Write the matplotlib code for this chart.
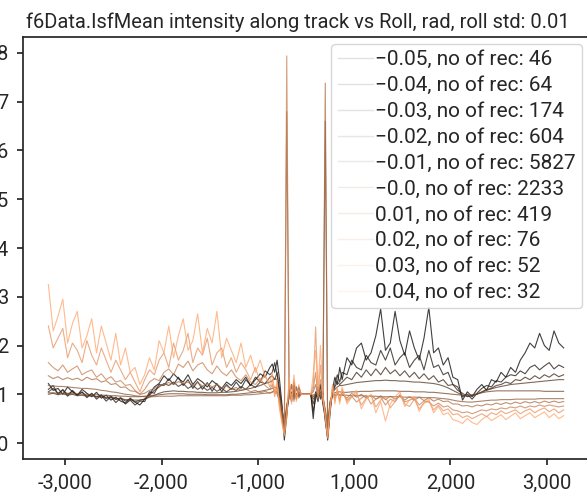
import numpy as np
import matplotlib
matplotlib.use("Agg")
import matplotlib.pyplot as plt
from matplotlib import cm

plt.rcParams['font.family'] = ['Roboto', 'DejaVu Sans']

# ---------------- data ----------------
rolls = ["\u22120.05", "\u22120.04", "\u22120.03", "\u22120.02", "\u22120.01",
         "\u22120.0", "0.01", "0.02", "0.03", "0.04"]
n_rec = [46, 64, 174, 604, 5827, 2233, 419, 76, 52, 32]

# along-track positions (tick-spaced axis units)
pos_left = np.arange(-2675, -349, 50)
pos_center = np.arange(-350, 351, 25)
pos_right = np.arange(375, 2676, 50)

tick_pos = [-2500, -1500, -500, 500, 1500, 2500]
tick_labels = ["-3,000", "-2,000", "-1,000", "1,000", "2,000", "3,000"]
ytick_vals = [0, 1, 2, 3, 4, 5, 6, 7, 8]

m05_left = [1.22, 1.08, 1.12, 1.00, 1.15, 1.05, 0.98, 1.10, 1.02, 0.95, 1.04, 0.92, 0.98, 0.88, 0.94, 0.86,
            0.82, 0.92, 0.84, 0.78, 0.90, 1.00, 1.15, 1.22, 1.38, 1.28, 1.42, 1.32, 1.25, 1.40, 1.20, 1.32,
            1.25, 1.15, 1.28, 1.20, 1.12, 1.25, 1.18, 1.30, 1.22, 1.35, 1.18, 1.30, 1.42, 1.35, 1.55]
m05_center = [1.62, 1.45, 1.70, 1.30, 0.80, 0.06, 0.55, 1.10, 0.85, 1.25, 0.90, 1.15, 1.00, 1.00, 1.00,
              1.00, 1.00, 0.50, 1.05, 0.85, 1.20, 0.80, 0.50, 0.06, 0.60, 1.10, 1.35, 1.20, 1.55]
m05_right = [1.30, 1.75, 1.60, 1.95, 2.05, 1.70, 1.85, 2.20, 2.75, 1.90, 2.05, 2.70, 2.10, 1.80, 2.30, 1.95,
             1.70, 2.15, 2.78, 1.85, 1.95, 1.60, 1.75, 1.35, 1.30, 0.88, 1.05, 0.95, 1.10, 1.20, 1.08, 1.30,
             1.25, 1.45, 1.35, 1.55, 1.45, 1.70, 1.85, 2.05, 1.95, 2.25, 2.00, 1.90, 2.30, 2.05, 1.95]

m04_left = [1.10, 1.18, 1.00, 1.10, 0.96, 1.08, 0.98, 1.05, 0.93, 1.02, 0.90, 0.98, 0.86, 0.95, 0.83, 0.92,
            0.80, 0.88, 0.78, 0.86, 0.85, 1.05, 1.02, 1.20, 1.18, 1.32, 1.20, 1.35, 1.18, 1.30, 1.12, 1.26,
            1.10, 1.24, 1.06, 1.22, 1.05, 1.20, 1.10, 1.25, 1.12, 1.30, 1.18, 1.35, 1.25, 1.48, 1.40]
m04_center = [1.45, 1.65, 1.40, 1.05, 0.60, 0.15, 0.70, 0.95, 1.20, 0.90, 1.15, 0.95, 1.00, 1.00, 1.00,
              1.00, 1.00, 0.65, 0.90, 1.15, 0.90, 1.05, 0.45, 0.12, 0.70, 1.00, 1.20, 1.40, 1.25]
m04_right = [1.45, 1.40, 1.70, 1.55, 1.50, 1.80, 1.65, 1.60, 1.90, 1.70, 1.95, 1.60, 1.75, 1.85, 1.55, 1.70,
             1.80, 1.50, 1.90, 1.55, 1.60, 1.40, 1.45, 1.20, 1.15, 0.95, 1.00, 0.90, 1.02, 1.12, 1.18, 1.15,
             1.28, 1.25, 1.35, 1.40, 1.38, 1.48, 1.42, 1.55, 1.60, 1.50, 1.58, 1.65, 1.52, 1.60, 1.55]

m03_left = [1.05, 1.12, 1.02, 1.08, 1.00, 1.06, 0.98, 1.04, 0.96, 1.01, 0.94, 0.99, 0.91, 0.96, 0.89, 0.93,
            0.86, 0.90, 0.84, 0.88, 0.90, 0.98, 1.08, 1.15, 1.22, 1.18, 1.25, 1.16, 1.22, 1.12, 1.18, 1.10,
            1.16, 1.08, 1.14, 1.06, 1.12, 1.05, 1.12, 1.08, 1.16, 1.10, 1.20, 1.14, 1.25, 1.22, 1.35]
m03_center = [1.38, 1.30, 1.45, 1.10, 0.70, 0.20, 0.60, 1.05, 0.95, 1.10, 0.95, 1.05, 1.00, 1.00, 1.00,
              1.00, 1.00, 0.80, 1.00, 0.95, 1.05, 0.90, 0.55, 0.15, 0.75, 1.05, 1.15, 1.25, 1.20]
m03_right = [1.25, 1.35, 1.30, 1.45, 1.35, 1.50, 1.38, 1.52, 1.40, 1.55, 1.42, 1.50, 1.38, 1.48, 1.35, 1.45,
             1.32, 1.42, 1.30, 1.38, 1.25, 1.30, 1.18, 1.20, 1.08, 1.02, 0.95, 0.98, 1.00, 1.05, 1.10, 1.12,
             1.18, 1.20, 1.25, 1.22, 1.30, 1.28, 1.35, 1.30, 1.38, 1.32, 1.40, 1.35, 1.42, 1.36, 1.40]

m02_left = [1.00, 1.02, 0.99, 1.01, 0.98, 1.00, 0.97, 0.98, 0.96, 0.97, 0.95, 0.95, 0.93, 0.93, 0.91, 0.91,
            0.89, 0.89, 0.88, 0.88, 0.90, 0.94, 0.98, 1.02, 1.05, 1.06, 1.07, 1.06, 1.06, 1.05, 1.05, 1.04,
            1.04, 1.03, 1.03, 1.03, 1.04, 1.04, 1.05, 1.06, 1.08, 1.10, 1.12, 1.15, 1.18, 1.22, 1.25]
m02_center = [1.28, 1.32, 1.30, 1.05, 0.75, 0.30, 0.75, 0.95, 1.05, 0.98, 1.02, 0.99, 1.00, 1.00, 1.00,
              1.00, 1.00, 0.90, 0.98, 1.02, 0.97, 0.92, 0.65, 0.25, 0.80, 1.02, 1.10, 1.15, 1.18]
m02_right = [1.18, 1.20, 1.22, 1.24, 1.25, 1.26, 1.27, 1.28, 1.28, 1.29, 1.28, 1.28, 1.27, 1.27, 1.26, 1.25,
             1.25, 1.24, 1.23, 1.22, 1.20, 1.17, 1.13, 1.08, 1.03, 0.98, 0.96, 0.97, 1.00, 1.04, 1.08, 1.11,
             1.14, 1.16, 1.18, 1.20, 1.21, 1.22, 1.23, 1.24, 1.25, 1.26, 1.27, 1.28, 1.29, 1.30, 1.30]

m01_left = [1.03, 1.03, 1.02, 1.02, 1.02, 1.01, 1.01, 1.00, 1.00, 0.99, 0.99, 0.98, 0.98, 0.97, 0.97, 0.96,
            0.96, 0.95, 0.95, 0.95, 0.96, 0.97, 0.98, 0.99, 1.00, 1.01, 1.01, 1.01, 1.01, 1.00, 1.00, 1.00,
            1.00, 0.99, 0.99, 0.99, 0.99, 0.99, 1.00, 1.00, 1.01, 1.02, 1.03, 1.04, 1.06, 1.08, 1.10]
m01_center = [1.12, 1.15, 1.12, 0.95, 0.70, 0.35, 0.80, 0.97, 1.02, 1.00, 1.01, 1.00, 1.00, 1.00, 1.00,
              1.00, 1.00, 0.95, 1.00, 1.01, 0.99, 0.95, 6.60, 0.30, 0.85, 1.00, 1.03, 1.05, 1.05]
m01_right = [1.04, 1.04, 1.05, 1.05, 1.06, 1.06, 1.06, 1.07, 1.07, 1.07, 1.07, 1.07, 1.06, 1.06, 1.06, 1.05,
             1.05, 1.05, 1.04, 1.04, 1.03, 1.02, 1.01, 1.00, 0.99, 0.98, 0.98, 0.99, 1.01, 1.03, 1.05, 1.06,
             1.07, 1.07, 1.07, 1.07, 1.07, 1.07, 1.07, 1.07, 1.07, 1.07, 1.06, 1.06, 1.06, 1.06, 1.06]

z00_left = [1.18, 1.17, 1.16, 1.16, 1.15, 1.14, 1.13, 1.12, 1.12, 1.11, 1.10, 1.08, 1.07, 1.05, 1.04, 1.02,
            1.00, 0.99, 0.97, 0.96, 0.95, 0.95, 0.95, 0.96, 0.96, 0.96, 0.96, 0.97, 0.97, 0.97, 0.97, 0.97,
            0.97, 0.97, 0.97, 0.97, 0.97, 0.97, 0.98, 0.98, 0.98, 0.99, 0.99, 1.00, 1.01, 1.02, 1.03]
z00_center = [1.05, 1.06, 1.05, 0.90, 0.70, 0.40, 6.80, 1.00, 1.02, 0.98, 1.01, 0.99, 1.00, 1.00, 1.00,
              1.00, 1.00, 0.98, 1.02, 1.00, 0.98, 0.94, 0.70, 0.40, 0.85, 0.98, 0.99, 0.99, 0.98]
z00_right = [0.98, 0.98, 0.97, 0.97, 0.97, 0.96, 0.96, 0.96, 0.95, 0.95, 0.95, 0.95, 0.95, 0.94, 0.94, 0.94,
             0.94, 0.93, 0.93, 0.93, 0.92, 0.91, 0.90, 0.88, 0.86, 0.85, 0.84, 0.84, 0.85, 0.86, 0.87, 0.88,
             0.88, 0.89, 0.89, 0.89, 0.90, 0.90, 0.90, 0.90, 0.90, 0.91, 0.91, 0.91, 0.91, 0.91, 0.91]

p01_left = [1.38, 1.32, 1.36, 1.30, 1.34, 1.30, 1.33, 1.28, 1.35, 1.30, 1.32, 1.25, 1.28, 1.20, 1.22, 1.14,
            1.15, 1.07, 1.06, 1.00, 1.02, 1.08, 1.12, 1.18, 1.20, 1.24, 1.20, 1.26, 1.22, 1.25, 1.18, 1.24,
            1.17, 1.22, 1.15, 1.20, 1.13, 1.17, 1.10, 1.14, 1.08, 1.11, 1.05, 1.08, 1.03, 1.06, 1.02]
p01_center = [1.04, 1.10, 1.00, 0.85, 0.55, 0.25, 0.70, 1.05, 0.90, 1.12, 0.95, 1.05, 1.00, 1.00, 1.00,
              1.00, 1.00, 1.05, 1.20, 0.95, 1.10, 0.85, 7.38, 0.20, 0.80, 1.05, 0.95, 1.05, 0.98]
p01_right = [1.00, 0.92, 1.02, 0.94, 1.00, 0.92, 0.98, 0.90, 0.97, 0.89, 0.96, 0.90, 0.97, 0.88, 0.95, 0.88,
             0.94, 0.87, 0.93, 0.86, 0.90, 0.85, 0.86, 0.80, 0.80, 0.76, 0.77, 0.74, 0.78, 0.76, 0.80, 0.78,
             0.82, 0.79, 0.83, 0.80, 0.84, 0.81, 0.85, 0.82, 0.85, 0.82, 0.86, 0.83, 0.86, 0.83, 0.85]

p02_left = [1.65, 1.55, 1.48, 1.60, 1.45, 1.52, 1.58, 1.40, 1.46, 1.50, 1.35, 1.42, 1.30, 1.36, 1.25, 1.28,
            1.18, 1.20, 1.08, 1.00, 1.10, 1.25, 1.32, 1.28, 1.45, 1.52, 1.40, 1.62, 1.55, 1.68, 1.48, 1.60,
            1.65, 1.50, 1.42, 1.58, 1.45, 1.38, 1.50, 1.35, 1.28, 1.40, 1.25, 1.20, 1.32, 1.18, 1.10]
p02_center = [1.20, 1.02, 1.15, 0.80, 0.50, 0.15, 7.94, 0.90, 1.20, 0.85, 1.15, 0.92, 1.00, 1.00, 1.00,
              1.00, 1.00, 1.10, 1.45, 0.90, 1.30, 0.95, 0.55, 0.10, 0.75, 1.10, 0.90, 1.05, 0.88]
p02_right = [1.05, 0.88, 0.96, 0.84, 0.92, 0.98, 0.80, 0.90, 0.94, 0.78, 0.90, 0.85, 0.98, 0.84, 0.88, 0.92,
             0.78, 0.86, 0.84, 0.76, 0.82, 0.74, 0.76, 0.68, 0.66, 0.62, 0.64, 0.60, 0.64, 0.68, 0.66, 0.70,
             0.68, 0.72, 0.70, 0.74, 0.72, 0.76, 0.72, 0.76, 0.74, 0.78, 0.75, 0.78, 0.76, 0.74, 0.76]

p03_left = [2.40, 1.95, 2.15, 2.35, 1.75, 2.05, 1.90, 1.65, 2.10, 1.80, 1.60, 1.95, 1.70, 1.45, 1.70, 1.50,
            1.30, 1.45, 1.25, 1.05, 1.30, 1.50, 1.40, 1.70, 1.85, 1.55, 2.05, 1.70, 1.90, 2.25, 1.65, 1.95,
            1.80, 2.15, 1.60, 1.85, 1.95, 1.55, 1.75, 1.45, 1.65, 1.50, 1.30, 1.55, 1.25, 1.40, 1.15]
p03_center = [1.30, 0.95, 1.20, 0.75, 0.45, 0.20, 0.60, 1.25, 0.85, 1.30, 0.90, 1.10, 1.00, 1.00, 1.00,
              1.00, 1.00, 1.20, 2.38, 1.00, 1.60, 0.90, 0.60, 0.15, 0.70, 1.15, 0.85, 1.10, 0.85]
p03_right = [1.10, 0.85, 0.95, 1.02, 0.78, 0.92, 0.98, 0.74, 0.88, 0.95, 0.72, 0.85, 1.00, 0.80, 0.75, 0.90,
             0.70, 0.82, 0.86, 0.68, 0.78, 0.66, 0.70, 0.58, 0.60, 0.52, 0.56, 0.50, 0.55, 0.60, 0.54, 0.62,
             0.58, 0.66, 0.60, 0.64, 0.68, 0.60, 0.66, 0.70, 0.62, 0.68, 0.72, 0.64, 0.70, 0.62, 0.68]

p04_left = [3.25, 2.30, 2.60, 2.95, 2.05, 2.45, 2.70, 1.95, 2.20, 2.55, 1.85, 2.40, 2.05, 1.70, 2.25, 1.60,
            1.95, 1.45, 1.55, 1.20, 1.40, 1.75, 1.50, 2.10, 1.85, 2.40, 1.75, 2.20, 2.55, 1.90, 2.10, 2.65,
            1.85, 2.35, 2.05, 2.70, 1.75, 2.15, 1.90, 1.65, 2.05, 1.55, 1.80, 1.45, 1.70, 1.35, 1.25]
p04_center = [1.45, 1.00, 1.30, 0.70, 0.40, 0.15, 0.50, 1.35, 0.80, 1.40, 0.85, 1.20, 1.00, 1.00, 1.00,
              1.00, 1.00, 1.40, 1.90, 1.10, 2.00, 1.00, 0.50, 0.10, 0.65, 1.20, 0.80, 1.15, 0.80]
p04_right = [1.15, 0.80, 0.95, 1.08, 0.70, 0.90, 1.00, 0.62, 0.85, 0.45, 0.80, 0.95, 1.05, 0.75, 0.88, 0.95,
             0.65, 0.82, 0.90, 0.62, 0.75, 0.58, 0.62, 0.48, 0.45, 0.40, 0.50, 0.42, 0.38, 0.48, 0.55, 0.46,
             0.52, 0.58, 0.48, 0.55, 0.62, 0.50, 0.56, 0.62, 0.52, 0.58, 0.64, 0.52, 0.60, 0.50, 0.56]

series = [
    (m05_left, m05_center, m05_right),
    (m04_left, m04_center, m04_right),
    (m03_left, m03_center, m03_right),
    (m02_left, m02_center, m02_right),
    (m01_left, m01_center, m01_right),
    (z00_left, z00_center, z00_right),
    (p01_left, p01_center, p01_right),
    (p02_left, p02_center, p02_right),
    (p03_left, p03_center, p03_right),
    (p04_left, p04_center, p04_right),
]

# ---------------- plot ----------------
text_color = '#262626'
fig = plt.figure(figsize=(5.87, 5.0), dpi=100)
ax = fig.add_axes([0.0385, 0.0814, 0.9656, 0.8452])

x_all = np.concatenate([pos_left, pos_center, pos_right])
for i, (roll, n, (sl, sc, sr)) in enumerate(zip(rolls, n_rec, series)):
    y = np.concatenate([sl, sc, sr])
    color = cm.copper(i / 11)
    ax.plot(x_all, y, color=color, lw=0.8, alpha=0.75,
            label=f"{roll}, no of rec: {n}")

ax.set_xticks(tick_pos)
ax.set_xticklabels(tick_labels)
ax.set_yticks(ytick_vals)

for sp in ax.spines.values():
    sp.set_color(text_color)
    sp.set_linewidth(1.25)
ax.tick_params(axis='both', colors=text_color, labelsize=14.5, width=1.25,
               length=4.5, pad=6)

ax.set_title("f6Data.IsfMean intensity along track vs Roll, rad, roll std: 0.01",
             fontsize=14.5, color=text_color, pad=6, x=0.486)

leg = ax.legend(loc='upper right', fontsize=15, frameon=True, fancybox=True,
                edgecolor='0.8', framealpha=0.8, handlelength=1.7,
                handletextpad=0.1, labelspacing=0.33, borderpad=0.3,
                borderaxespad=0.35)
for t in leg.get_texts():
    t.set_color(text_color)
for h in leg.legend_handles:
    h.set_alpha(0.12)
    h.set_linewidth(1.0)

fig.savefig("out.png", dpi=100)
